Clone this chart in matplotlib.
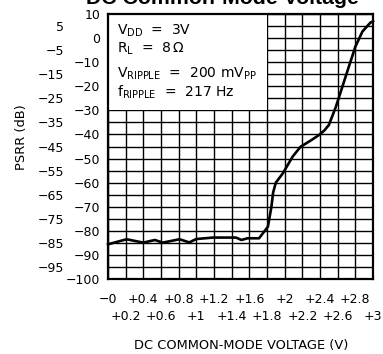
import matplotlib
matplotlib.use("Agg")
import matplotlib.pyplot as plt
import numpy as np

# PSRR vs DC common-mode voltage (curve read point by point)
vcm = [0.0, 0.21, 0.40, 0.53, 0.62, 0.81, 0.92, 1.00, 1.19, 1.45, 1.51, 1.58,
       1.71, 1.81, 1.85, 1.87, 1.90, 1.98, 2.09, 2.18, 2.30, 2.39, 2.45, 2.50,
       2.58, 2.69, 2.80, 2.88, 2.97, 3.0]
psrr = [-85.6, -83.5, -84.9, -83.8, -84.9, -83.5, -84.8, -83.4, -82.8, -82.8,
        -83.8, -83.1, -83.1, -78.3, -70.0, -64.0, -60.0, -56.1, -49.2, -45.1,
        -42.4, -40.2, -38.3, -36.1, -28.5, -16.0, -3.6, 2.7, 6.4, 7.0]

x_major = np.round(np.arange(0.0, 3.01, 0.4), 1)
x_minor = np.round(np.arange(0.2, 3.01, 0.4), 1)
x_major_labels = ["\u22120", "+0.4", "+0.8", "+1.2", "+1.6", "+2", "+2.4", "+2.8"]
x_minor_labels = ["+0.2", "+0.6", "+1", "+1.4", "+1.8", "+2.2", "+2.6", "+3"]

y_even = list(range(10, -101, -10))
y_odd = list(range(5, -96, -10))

conditions = [r"$\mathrm{V_{DD}}$  =  3V",
              r"$\mathrm{R_{L}}$  =  8$\,\Omega$",
              r"$\mathrm{V_{RIPPLE}}$  =  200 m$\mathrm{V_{PP}}$",
              r"$\mathrm{f_{RIPPLE}}$  =  217 Hz"]
cond_y = [1.3, -6.2, -16.6, -24.4]

W, H = 383, 354
fig = plt.figure(figsize=(W / 100, H / 100), dpi=100)
ax = fig.add_axes([108 / W, 1 - 279 / H, 265 / W, 265 / H])

ax.set_xlim(0, 3)
ax.set_ylim(-100, 10)

# grid every 0.2 V / 5 dB, drawn via ticks; labels staggered in two rows/columns
ax.set_xticks(x_major, labels=x_major_labels)
ax.set_xticks(x_minor, labels=x_minor_labels, minor=True)
ax.set_yticks(y_even, labels=[f"{v}".replace("-", "\u2212") for v in y_even])
ax.set_yticks(y_odd, labels=[f"{v}".replace("-", "\u2212") for v in y_odd], minor=True)
ax.tick_params(which="both", length=0, labelsize=9, colors="black")
ax.tick_params(axis="x", which="major", pad=10)
ax.tick_params(axis="x", which="minor", pad=22.5)
ax.tick_params(axis="y", which="major", pad=5.5)
ax.tick_params(axis="y", which="minor", pad=31.5)
ax.set_axisbelow(True)
ax.grid(which="both", color="black", linewidth=1.0)
for s in ax.spines.values():
    s.set_linewidth(1.6)

# white panel holding the test conditions
ax.add_patch(plt.Rectangle((0, -30), 1.8, 40, facecolor="white",
                           edgecolor="none", zorder=1))
for txt, yy in zip(conditions, cond_y):
    ax.text(0.1, yy, txt, fontsize=10, va="baseline", ha="left", zorder=3)

ax.plot(vcm, psrr, color="black", linewidth=1.9, zorder=4,
        solid_joinstyle="round", clip_on=False)

fig.text(222 / W, 1 - 4 / H, "DC Common-Mode Voltage", family="Liberation Sans",
         fontweight="bold", fontsize=15.3, ha="center", va="baseline")
fig.text(241 / W, 1 - 346 / H, "DC COMMON-MODE VOLTAGE (V)", fontsize=9.4,
         ha="center", va="center")
fig.text(21 / W, 1 - 137 / H, "PSRR (dB)", fontsize=9.4, rotation=90,
         ha="center", va="center")

fig.savefig("out.png", dpi=100)
